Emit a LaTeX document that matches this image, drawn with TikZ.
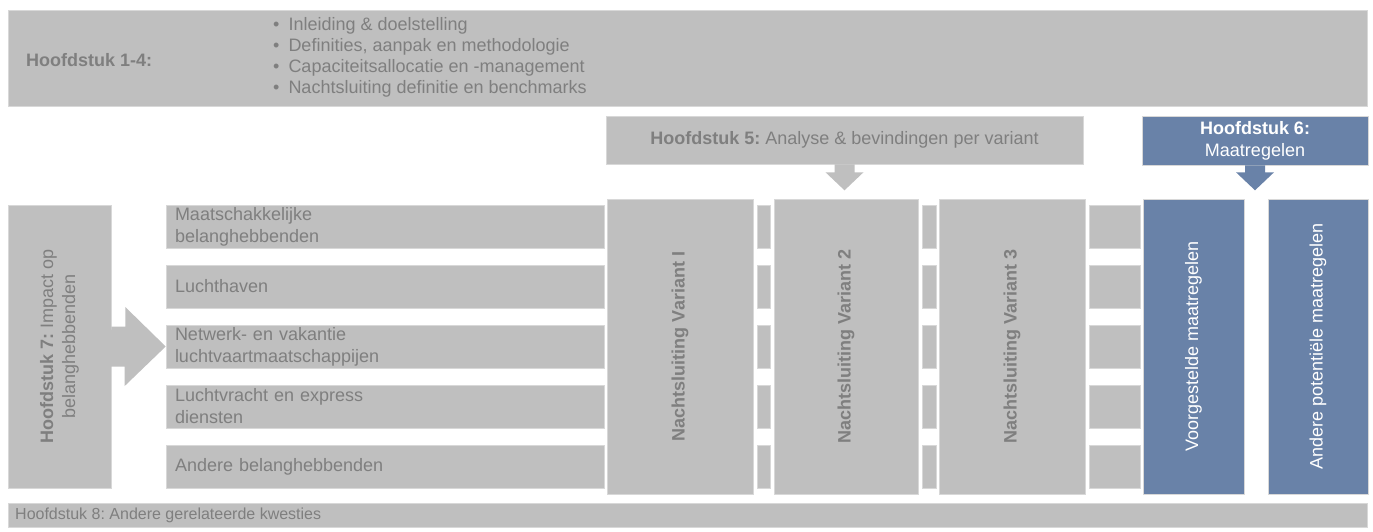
\documentclass[tikz,border=0pt]{standalone}
\usepackage{fontspec}
\setmainfont{Liberation Sans}
\usetikzlibrary{positioning}
\definecolor{boxgrey}{RGB}{191,191,191}
\definecolor{txtgrey}{RGB}{127,127,127}
\definecolor{mblue}{RGB}{105,130,168}
\definecolor{edgegrey}{RGB}{216,216,216}
\newcommand{\introitem}[1]{\textbullet\hspace{9pt}#1}
\tikzset{
  box/.style={fill=boxgrey, draw=edgegrey, line width=0.6pt, inner sep=0pt, text=txtgrey, font=\fontsize{18}{22}\selectfont},
  bluebox/.style={box, fill=mblue, text=white},
  txt/.style={inner sep=0pt, text=txtgrey, font=\fontsize{18}{22}\selectfont},
  bar/.style={box, text width=420pt, inner xsep=9pt, minimum height=43pt, align=left},
  gapbox/.style={box, minimum height=43pt},
  column/.style={box, rotate=90, minimum width=295pt, minimum height=#1, font=\fontsize{18}{22}\selectfont\bfseries},
  bluecolumn/.style={bluebox, rotate=90, minimum width=295pt, minimum height=#1}
}
\begin{document}
\frenchspacing
\begin{tikzpicture}[x=1pt,y=-1pt]
  \useasboundingbox (0,0) rectangle (1373,532);
  %% chapters 1-4
  \node (intro) at (687.5,58) [box, minimum width=1359pt, minimum height=96pt] {};
  \node (introhead) at (26,60) [txt, anchor=west] {\textbf{Hoofdstuk 1-4:}};
  \node (introlist) at (273,57.5) [txt, anchor=west, align=left, font=\fontsize{18}{21}\selectfont] {\introitem{Inleiding \& doelstelling}\\
    \introitem{Definities, aanpak en methodologie}\\
    \introitem{Capaciteitsallocatie en -management}\\
    \introitem{Nachtsluiting definitie en benchmarks}};
  %% chapters 5 and 6
  \node (h5) at (844.5,140) [box, minimum width=477pt, minimum height=48pt] {\textbf{Hoofdstuk 5:} Analyse \& bevindingen per variant};
  \node (h6) at (1255,140.5) [bluebox, minimum width=226pt, minimum height=49pt, align=center] {\textbf{Hoofdstuk 6:}\\Maatregelen};
  \fill [boxgrey] ([xshift=-10pt]h5.south) -- ++(0,8) -- ++(-9,0) -- ++(19,18) -- ++(19,-18) -- ++(-9,0) -- ++(0,-8) -- cycle;
  \fill [mblue] ([xshift=-10pt]h6.south) -- ++(0,7) -- ++(-9,0) -- ++(19,18) -- ++(19,-18) -- ++(-9,0) -- ++(0,-7) -- cycle;
  %% chapter 7
  \node (h7) at (59.5,346.5) [box, rotate=90, minimum width=283pt, minimum height=103pt, align=center] {\textbf{Hoofdstuk 7:} Impact op\\belanghebbenden};
  \node (r1) at (385,226.5) [bar] {Maatschakkelijke\\belanghebbenden};
  \node (r2) at (385,286.5) [bar] {Luchthaven};
  \node (r3) at (385,346.5) [bar] {Netwerk- en vakantie\\luchtvaartmaatschappijen};
  \node (r4) at (385,406.5) [bar] {Luchtvracht en express\\diensten};
  \node (r5) at (385,466.5) [bar] {Andere belanghebbenden};
  \fill [boxgrey] ([yshift=20pt]h7.south) -- ++(14,0) -- ++(0,-19.5) -- (r3.west) -- ++(-41,39.5) -- ++(0,-19.5) -- ++(-14,0) -- cycle;
  %% variants
  \node (v1) at (680,346.5) [column=146pt] {Nachtsluiting Variant I};
  \node (v2) at (846,346.5) [column=144pt] {Nachtsluiting Variant 2};
  \node (v3) at (1012,346.5) [column=146pt] {Nachtsluiting Variant 3};
  \node (g11) at (763.5,226.5) [gapbox, minimum width=13pt] {};
  \node (g12) at (763.5,286.5) [gapbox, minimum width=13pt] {};
  \node (g13) at (763.5,346.5) [gapbox, minimum width=13pt] {};
  \node (g14) at (763.5,406.5) [gapbox, minimum width=13pt] {};
  \node (g15) at (763.5,466.5) [gapbox, minimum width=13pt] {};
  \node (g21) at (929,226.5) [gapbox, minimum width=14pt] {};
  \node (g22) at (929,286.5) [gapbox, minimum width=14pt] {};
  \node (g23) at (929,346.5) [gapbox, minimum width=14pt] {};
  \node (g24) at (929,406.5) [gapbox, minimum width=14pt] {};
  \node (g25) at (929,466.5) [gapbox, minimum width=14pt] {};
  \node (g31) at (1114.5,226.5) [gapbox, minimum width=51pt] {};
  \node (g32) at (1114.5,286.5) [gapbox, minimum width=51pt] {};
  \node (g33) at (1114.5,346.5) [gapbox, minimum width=51pt] {};
  \node (g34) at (1114.5,406.5) [gapbox, minimum width=51pt] {};
  \node (g35) at (1114.5,466.5) [gapbox, minimum width=51pt] {};
  %% measures
  \node (m1) at (1193.5,346.5) [bluecolumn=101pt] {Voorgestelde maatregelen};
  \node (m2) at (1318,346.5) [bluecolumn=100pt] {Andere potentiële maatregelen};
  %% chapter 8
  \node (h8) at (687.5,515) [box, minimum width=1359pt, minimum height=24pt] {};
  \node (h8text) at (15,515) [txt, anchor=west, font=\fontsize{16}{20}\selectfont] {Hoofdstuk 8: Andere gerelateerde kwesties};
\end{tikzpicture}
\end{document}
